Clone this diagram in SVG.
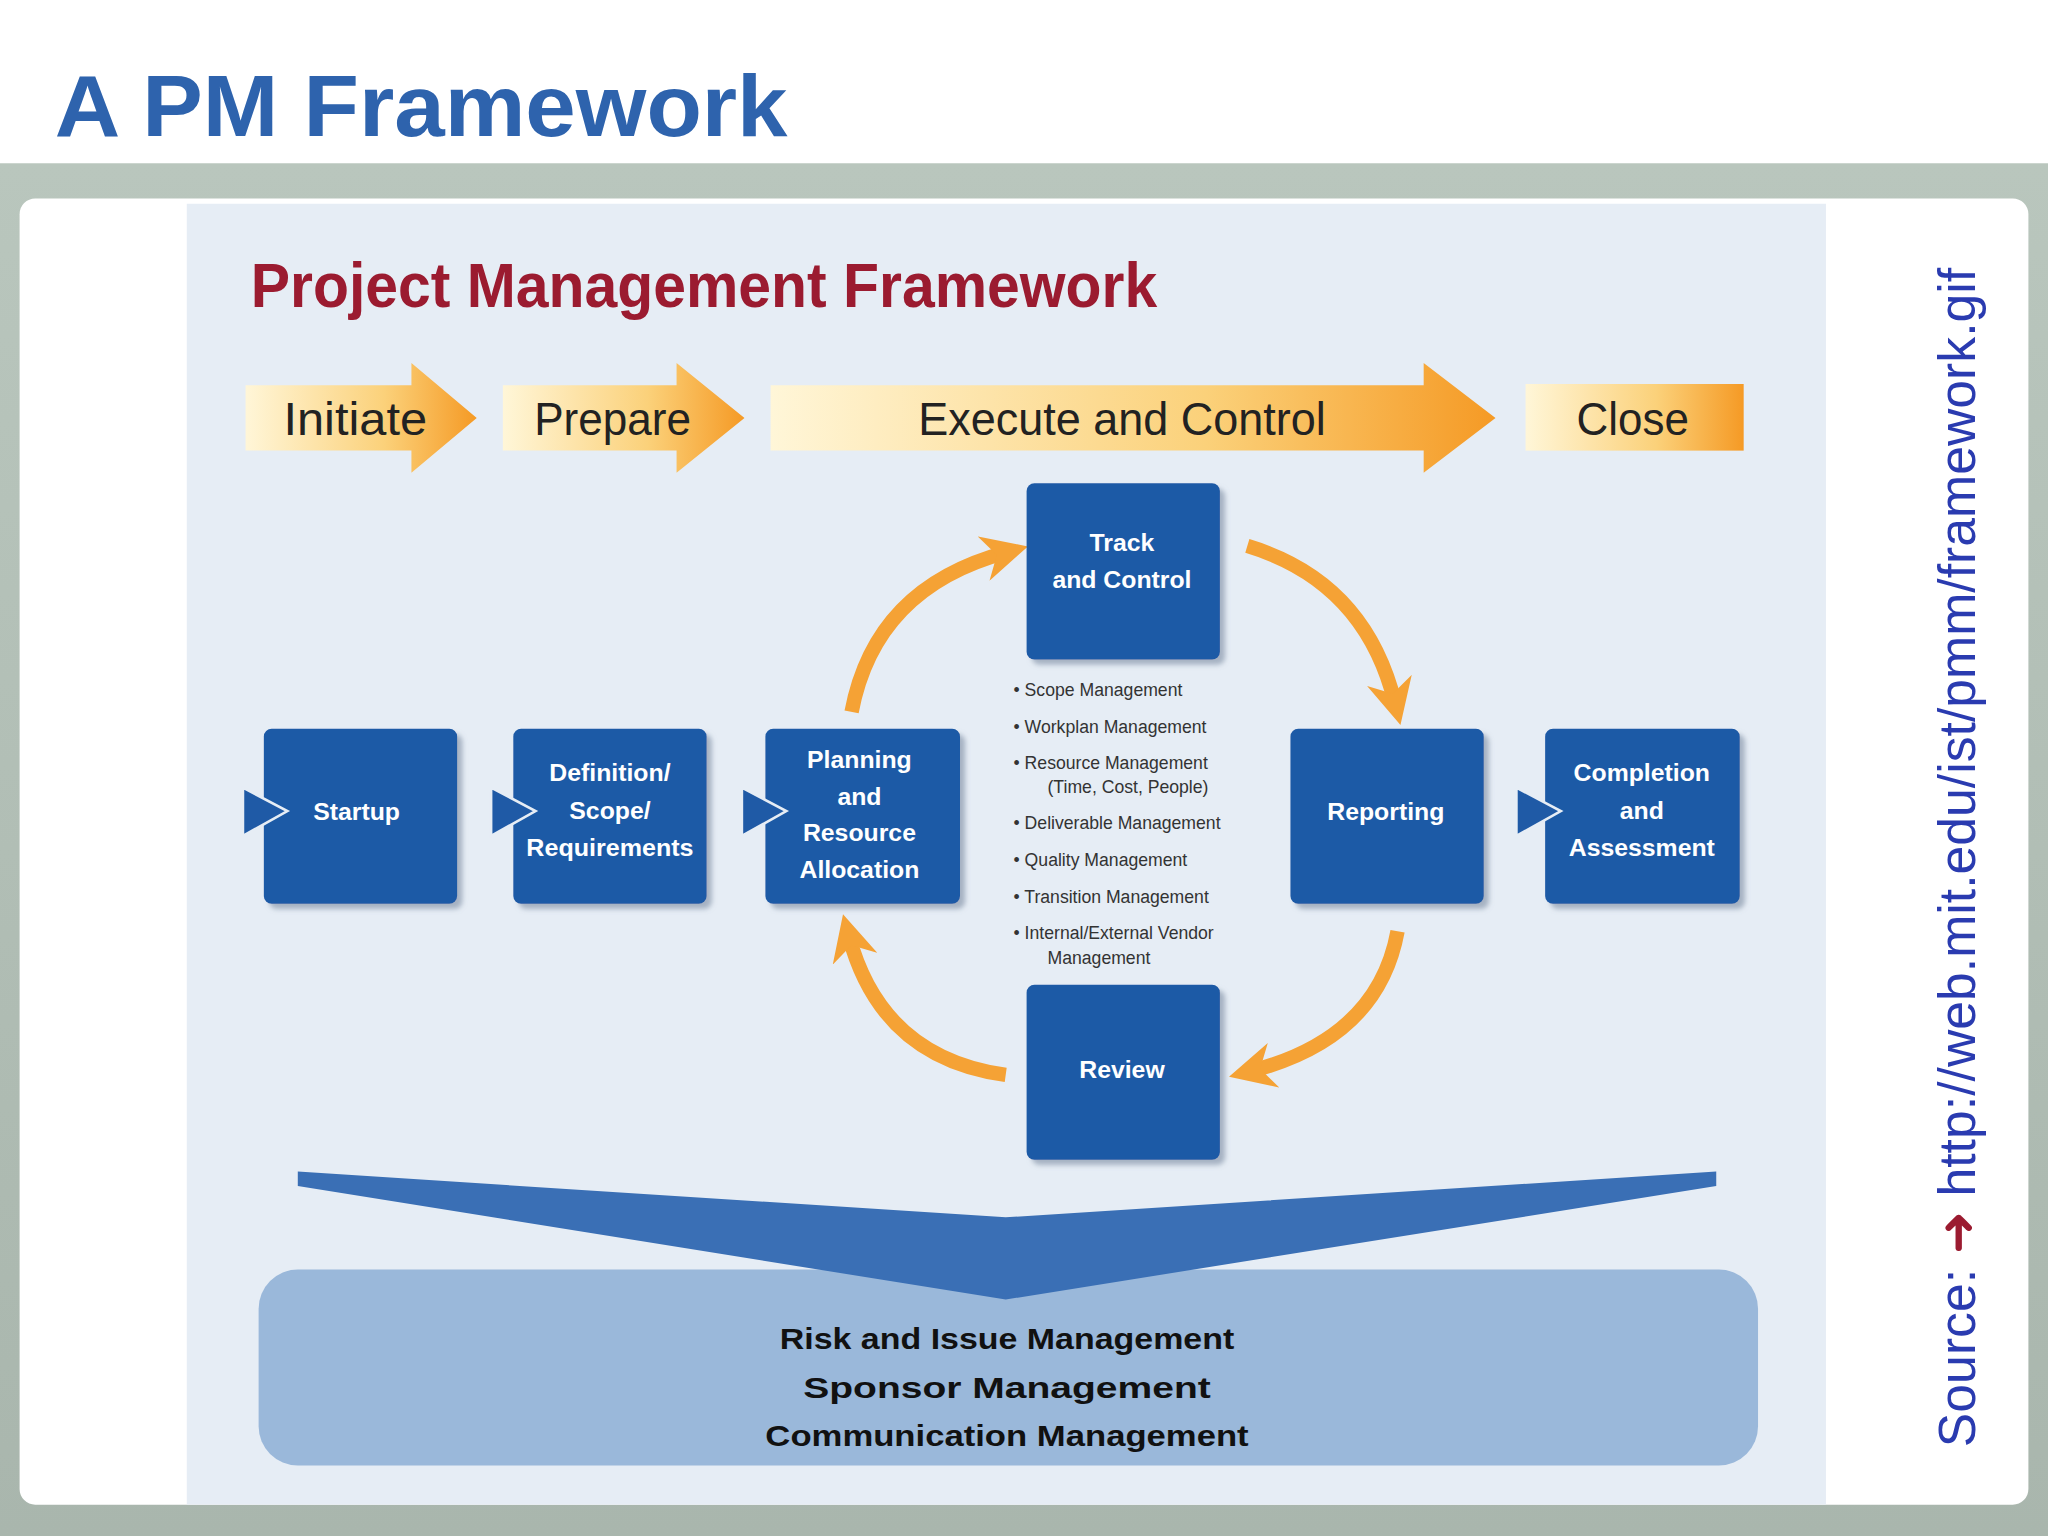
<svg xmlns="http://www.w3.org/2000/svg" width="2048" height="1536" viewBox="0 0 2048 1536">
<defs>
<linearGradient id="ph" x1="0" y1="0" x2="1" y2="0"><stop offset="0" stop-color="#fff6d8"/><stop offset="0.6" stop-color="#fbd17a"/><stop offset="1" stop-color="#f59a25"/></linearGradient>
<linearGradient id="bg" x1="0" y1="0" x2="0" y2="1"><stop offset="0" stop-color="#b9c6bd"/><stop offset="1" stop-color="#a9b6ad"/></linearGradient>
<marker id="ah" viewBox="0 0 10 10" refX="5" refY="5" markerWidth="3.2" markerHeight="3.2" orient="auto"><path d="M0,0 L10,5 L0,10 L3,5 Z" fill="#f5a235"/></marker>
<filter id="sh" x="-10%" y="-10%" width="130%" height="130%"><feDropShadow dx="4" dy="4" stdDeviation="2" flood-color="#7a8aa0" flood-opacity="0.6"/></filter>
<style>
.box{fill:#1f5aa6;filter:url(#sh)}
.bt{font-family:"Liberation Sans",sans-serif;font-weight:bold;font-size:19px;fill:#fff;text-anchor:middle}
.ph{font-family:"Liberation Sans",sans-serif;font-size:36px;fill:#222;text-anchor:middle}
.bl{font-family:"Liberation Sans",sans-serif;font-size:13.5px;fill:#333}
.arc{fill:none;stroke:#f5a235;stroke-width:11;marker-end:url(#ah)}
.tri{fill:#1f5aa6;stroke:#e6edf5;stroke-width:2}
.bm{font-family:"Liberation Sans",sans-serif;font-weight:bold;font-size:23px;fill:#111;text-anchor:middle}
</style>
</defs>
<g transform="scale(1.30612)">
<rect x="0" y="0" width="1568" height="1176" fill="#fff"/>
<rect x="0" y="125" width="1568" height="1051" fill="url(#bg)"/>
<text x="42" y="104" font-family="Liberation Sans,sans-serif" font-weight="bold" font-size="66" fill="#2e63ad" textLength="561" lengthAdjust="spacingAndGlyphs">A PM Framework</text>
<rect x="15" y="152" width="1538" height="1000" rx="12" fill="#fff"/>
<rect x="143" y="156" width="1255" height="996" fill="#e6edf5"/>
<text x="192" y="235" font-family="Liberation Sans,sans-serif" font-weight="bold" font-size="48" fill="#9b1b30" textLength="694" lengthAdjust="spacingAndGlyphs">Project Management Framework</text>
<g id="phases">
<polygon points="188,295 315,295 315,278 365,320 315,362 315,345 188,345" fill="url(#ph)"/>
<polygon points="385,295 518,295 518,278 570,320 518,362 518,345 385,345" fill="url(#ph)"/>
<polygon points="590,295 1090,295 1090,278 1145,320 1090,362 1090,345 590,345" fill="url(#ph)"/>
<rect x="1168" y="294" width="167" height="51" fill="url(#ph)"/>
<text class="ph" x="272" y="333" textLength="110" lengthAdjust="spacingAndGlyphs">Initiate</text>
<text class="ph" x="469" y="333" textLength="120" lengthAdjust="spacingAndGlyphs">Prepare</text>
<text class="ph" x="859" y="333" textLength="312" lengthAdjust="spacingAndGlyphs">Execute and Control</text>
<text class="ph" x="1250" y="333" textLength="86" lengthAdjust="spacingAndGlyphs">Close</text>
</g>
<g id="connectors">
<path class="arc" d="M652,545 Q670,450 770,423"/>
<path class="arc" d="M955,418 Q1045,445 1068,538"/>
<path class="arc" d="M1070,713 Q1055,795 958,820"/>
<path class="arc" d="M770,823 Q675,810 650,717"/>
</g>
<g id="startup"><rect class="box" x="202" y="558" width="148" height="134" rx="6"/><text class="bt" x="273" y="628">Startup</text></g>
<g id="definition"><rect class="box" x="393" y="558" width="148" height="134" rx="6"/><text class="bt" x="467" y="598">Definition/</text><text class="bt" x="467" y="627">Scope/</text><text class="bt" x="467" y="655" textLength="128" lengthAdjust="spacingAndGlyphs">Requirements</text></g>
<g id="planning"><rect class="box" x="586" y="558" width="149" height="134" rx="6"/><text class="bt" x="658" y="588">Planning</text><text class="bt" x="658" y="616">and</text><text class="bt" x="658" y="644">Resource</text><text class="bt" x="658" y="672">Allocation</text></g>
<g id="track"><rect class="box" x="786" y="370" width="148" height="135" rx="6"/><text class="bt" x="859" y="422">Track</text><text class="bt" x="859" y="450">and Control</text></g>
<g id="reporting"><rect class="box" x="988" y="558" width="148" height="134" rx="6"/><text class="bt" x="1061" y="628">Reporting</text></g>
<g id="completion"><rect class="box" x="1183" y="558" width="149" height="134" rx="6"/><text class="bt" x="1257" y="598">Completion</text><text class="bt" x="1257" y="627">and</text><text class="bt" x="1257" y="655">Assessment</text></g>
<g id="review"><rect class="box" x="786" y="754" width="148" height="134" rx="6"/><text class="bt" x="859" y="825">Review</text></g>
<g id="pointers">
<polygon class="tri" points="186,603 220,621 186,640"/>
<polygon class="tri" points="376,603 410,621 376,640"/>
<polygon class="tri" points="568,603 602,621 568,640"/>
<polygon class="tri" points="1161,603 1195,621 1161,640"/>
</g>
<g id="bullets" class="bl">
<text x="776" y="533">• Scope Management</text>
<text x="776" y="561">• Workplan Management</text>
<text x="776" y="589">• Resource Management</text>
<text x="802" y="607">(Time, Cost, People)</text>
<text x="776" y="635">• Deliverable Management</text>
<text x="776" y="663">• Quality Management</text>
<text x="776" y="691">• Transition Management</text>
<text x="776" y="719">• Internal/External Vendor</text>
<text x="802" y="738">Management</text>
</g>
<g id="bottom">
<rect x="198" y="972" width="1148" height="150" rx="30" fill="#9ab8da"/>
<polygon points="228,897 770,932 1314,897 1314,908 770,995 228,908" fill="#3a6fb5"/>
<text class="bm" x="771" y="1033" textLength="348" lengthAdjust="spacingAndGlyphs">Risk and Issue Management</text>
<text class="bm" x="771" y="1070" textLength="312" lengthAdjust="spacingAndGlyphs">Sponsor Management</text>
<text class="bm" x="771" y="1107" textLength="370" lengthAdjust="spacingAndGlyphs">Communication Management</text>
</g>
<text transform="translate(1512,1108) rotate(-90)" font-family="Liberation Sans,sans-serif" font-size="40" fill="#2a3bb0" textLength="903" lengthAdjust="spacingAndGlyphs">Source: <tspan fill="#9b1b30">➜</tspan> http://web.mit.edu/ist/pmm/framework.gif</text>
</g>
</svg>
